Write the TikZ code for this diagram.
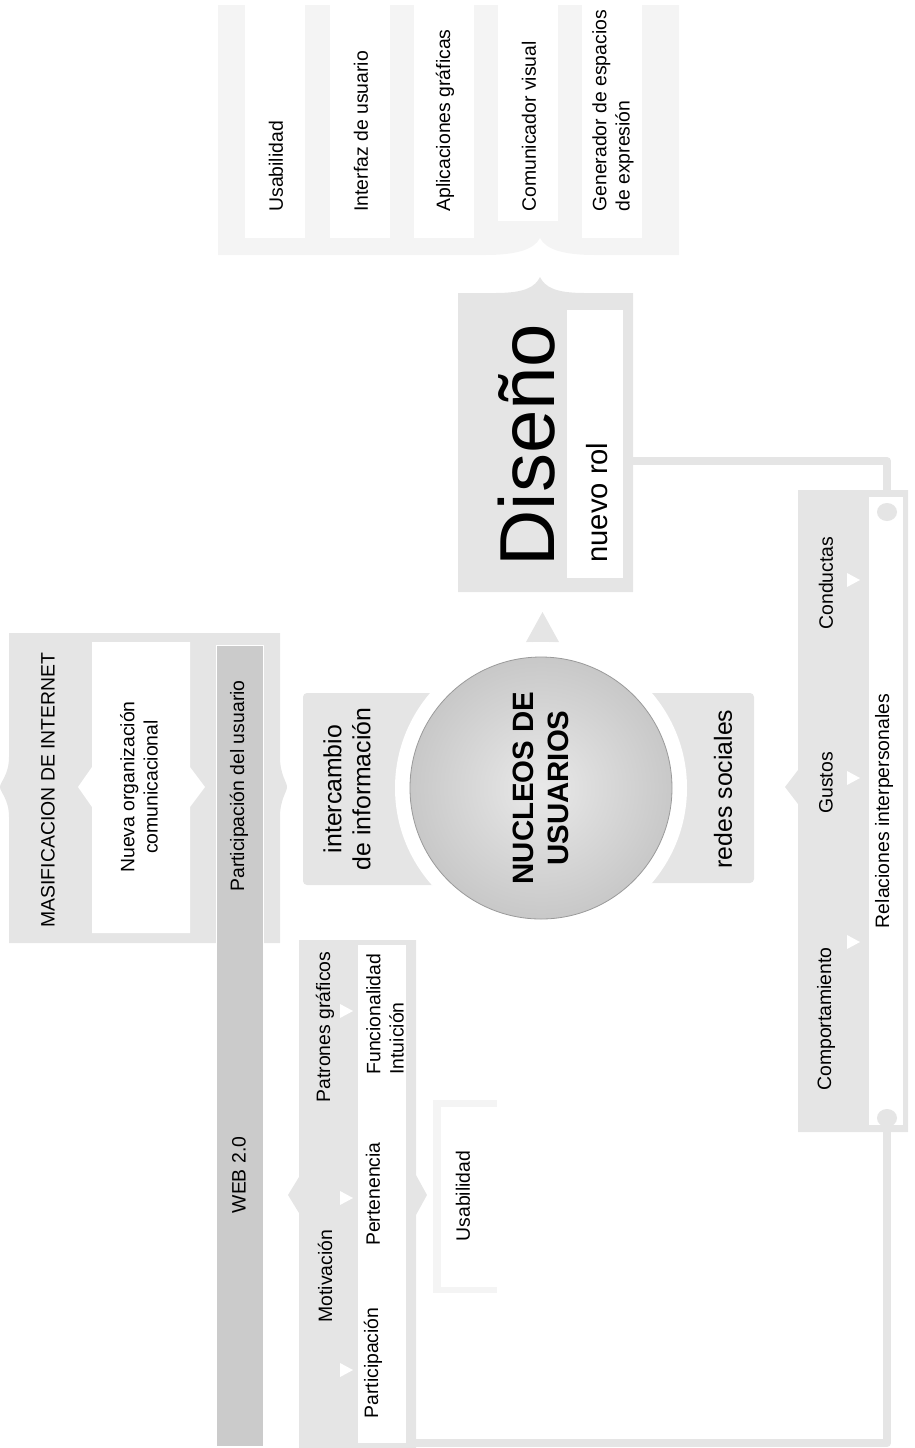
\documentclass[tikz,border=0pt]{standalone}
\usepackage{fontspec}
\setmainfont{Liberation Sans}
\definecolor{pale}{HTML}{E5E5E5}
\definecolor{paper}{HTML}{F4F4F4}
\definecolor{bargray}{HTML}{CBCBCB}
\definecolor{rim}{HTML}{9A9A9A}
\definecolor{core}{HTML}{E9E9E9}
\definecolor{shell}{HTML}{C8C8C8}
\tikzset{fig/.style={x=0.5pt,y=-0.5pt,line join=round},
  lbl/.style={rotate=90,inner sep=0pt,font=\fontsize{9.7}{11.6}\selectfont},
  big/.style={rotate=90,inner sep=0pt,align=center,font=\fontsize{12.4}{14.5}\selectfont},
  link/.style={pale,line width=4pt},
  tip/.style={white}}
\begin{document}
\begin{tikzpicture}[fig]
  \useasboundingbox(0,0)rectangle(915,1448);
  \fill[paper](218,5)--(679,5)--(679,255)--(595,255)..controls(565,255)and(546,250)..(540,238)..controls(534,250)and(515,255)..(485,255)--(218,255)--cycle;
  \foreach \x/\b/\t [count=\i] in {245/238/Usabilidad,330/238/Interfaz de usuario,414/238/Aplicaciones gráficas,498/221/Comunicador visual,582/238/{Generador de espacios\\de expresión}}{
    \fill[white](\x,5)rectangle(\x+60,\b);
    \node[lbl,anchor=west,align=left](rol\i)at(\x+31,212){\t};}
  \fill[pale](458,293)--(495,293)..controls(525,293)and(535,287)..(540,277)..controls(545,287)and(555,293)..(585,293)--(633,293)--(633,592)--(458,592)--cycle;
  \fill[white](567,310)rectangle(623,578);
  \node[rotate=90,anchor=west,inner sep=0pt,font=\fontsize{39}{39}\selectfont](dis)at(527,567){Diseño};
  \node[rotate=90,anchor=west,inner sep=0pt,font=\fontsize{14.6}{16}\selectfont](nrol)at(597,563){nuevo rol};
  \fill[pale](526,642)--(559,642)--(542.5,612)--cycle;
  \coordinate(disR)at(633,461);\coordinate(capT)at(887,512);
  \draw[link](disR)-|(capT);
  \fill[pale,rounded corners=2pt](303,693)rectangle(560,885);
  \fill[pale,rounded corners=2pt](520,693)rectangle(754,883);
  \fill[white](541,788)circle(146);
  \node[circle,minimum size=131pt,draw=rim,inner color=core,outer color=shell,rotate=90,align=center,inner sep=0pt,
    font=\bfseries\fontsize{14.7}{17.5}\selectfont](nuc)at(541,788){NUCLEOS DE\\USUARIOS};
  \node[big](inf)at(347,789){intercambio\\de información};
  \node[big](red)at(723,789){redes sociales};
  \fill[pale](9,633)--(280,633)--(280,757)..controls(280,775)and(287,782)..(287,787)..controls(287,792)and(280,799)..(280,817)
    --(280,943)--(9,943)--(9,817)..controls(9,799)and(0,792)..(0,787)..controls(0,782)and(9,775)..(9,757)--cycle;
  \fill[white](92,642)--(190,642)--(190,767)--(205,787)--(190,807)--(190,933)--(92,933)--(92,807)--(78,787)--(92,767)--cycle;
  \node[lbl](mas)at(48,790){MASIFICACION DE INTERNET};
  \node[lbl,align=center](org)at(139,787){Nueva organización\\comunicacional};
  \fill[bargray,draw=white](216,645)rectangle(263,1446);
  \node[lbl](par)at(239,786){Participación del usuario};
  \node[lbl](web)at(239,1175){WEB 2.0};
  \fill[pale](299,940)--(416,940)--(416,1175)--(427,1195)--(416,1215)--(416,1448)--(299,1448)--(299,1213)--(288,1195)--(299,1177)--cycle;
  \fill[white](358,945)rectangle(406,1443);
  \foreach \y in {1011,1198,1370}{\fill[tip](340,\y-7)--(353,\y)--(340,\y+7)--cycle;}
  \node[lbl](pat)at(325,1027){Patrones gráficos};
  \node[lbl](mot)at(325,1276){Motivación};
  \node[lbl,anchor=west,align=left](fun)at(385,1075){Funcionalidad\\Intuición};
  \node[lbl](per)at(373,1194){Pertenencia};
  \node[lbl](pci)at(373,1363){Participación};
  \fill[paper](433,1100)rectangle(497,1293);
  \fill[white](441,1107)rectangle(497,1287);
  \node[lbl](usa)at(463,1196){Usabilidad};
  \fill[pale](798,490)--(908,490)--(908,1132)--(798,1132)--(798,804)--(785,787)--(798,770)--cycle;
  \fill[white](869,497)rectangle(903,1125);
  \fill[pale](887,512)ellipse(10 and 9);\fill[pale](887,1118)ellipse(10 and 9);
  \coordinate(capB)at(887,1118);\coordinate(webR)at(412,1443);
  \draw[link](capB)|-(webR);
  \foreach \y in {580,778,942}{\fill[tip](847,\y-7)--(860,\y)--(847,\y+7)--cycle;}
  \node[lbl](con)at(826,583){Conductas};
  \node[lbl](gus)at(826,783){Gustos};
  \node[lbl](com)at(826,1019){Comportamiento};
  \node[lbl](rel)at(884,811){Relaciones interpersonales};
\end{tikzpicture}
\end{document}
